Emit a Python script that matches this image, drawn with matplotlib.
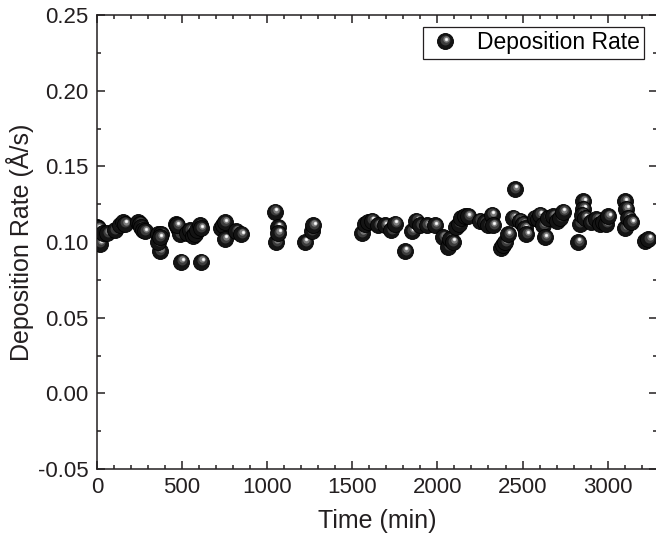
import numpy as np
import matplotlib.pyplot as plt
from matplotlib.ticker import MultipleLocator
from matplotlib.legend_handler import HandlerBase
from matplotlib.lines import Line2D
import matplotlib.transforms as mtransforms

plt.rcParams['font.family'] = ['Liberation Sans', 'DejaVu Sans']

# time (min) and deposition rate (A/s)
time = [0, 6, 16, 35, 60, 104, 133, 150, 162,
        241, 250, 260, 270, 280, 358, 368, 378, 358, 368,
        466, 476, 486, 470, 495, 530, 544, 564, 575, 590, 603, 608, 613,
        730, 740, 750, 750, 818, 848,
        1043, 1053, 1063, 1065, 1221, 1261, 1271,
        1554, 1574, 1595, 1613, 1652, 1691, 1730, 1750,
        1809, 1848, 1877, 1900, 1936, 1985,
        2034, 2063, 2073, 2090, 2112, 2125, 2141, 2160, 2180,
        2249, 2278, 2300, 2318, 2327, 2376, 2386, 2396, 2415, 2445, 2454,
        2484, 2500, 2513, 2523, 2572, 2590, 2601, 2621, 2631, 2650, 2680, 2700, 2720, 2738,
        2826, 2836, 2856, 2856, 2850, 2866, 2900, 2934, 2955, 2973, 2990, 3003,
        3100, 3100, 3110, 3120, 3140, 3218, 3240]
rate = [0.110, 0.109, 0.099, 0.106, 0.106, 0.108, 0.111, 0.113, 0.112,
        0.113, 0.112, 0.110, 0.108, 0.107, 0.105, 0.094, 0.105, 0.100, 0.103,
        0.112, 0.109, 0.105, 0.111, 0.087, 0.106, 0.108, 0.104, 0.105, 0.108, 0.111, 0.109, 0.087,
        0.109, 0.111, 0.113, 0.102, 0.107, 0.105,
        0.120, 0.100, 0.110, 0.106, 0.100, 0.107, 0.111,
        0.106, 0.112, 0.113, 0.114, 0.111, 0.111, 0.108, 0.112,
        0.094, 0.107, 0.114, 0.111, 0.111, 0.111,
        0.103, 0.097, 0.102, 0.100, 0.110, 0.112, 0.116, 0.117, 0.117,
        0.114, 0.113, 0.111, 0.118, 0.111, 0.096, 0.098, 0.100, 0.105, 0.116, 0.135,
        0.114, 0.112, 0.109, 0.105, 0.116, 0.115, 0.118, 0.111, 0.103, 0.116, 0.117, 0.114, 0.116, 0.120,
        0.100, 0.112, 0.127, 0.122, 0.118, 0.116, 0.113, 0.115, 0.112, 0.113, 0.112, 0.117,
        0.127, 0.109, 0.122, 0.116, 0.113, 0.101, 0.102]

fig = plt.figure(figsize=(6.56, 5.37), dpi=100)
ax = fig.add_axes([0.1479, 0.1266, 0.8536, 0.8454])

ink = '#231f20'
MS = 11.5
# (size fraction, colour, dx pt, dy pt) of the lighter spots on each ball
LAYERS = [(0.62, '#3c3c3c', 0.5, 1.0), (0.4, '#7a7a7a', 0.8, 1.6),
          (0.22, '#dcdcdc', 1.0, 1.9), (0.12, '#ffffff', 1.0, 1.9)]


def sphere(ax, x, y, z, size=MS):
    ax.plot(x, y, 'o', ms=size, mfc='#141414', mec='#000000', mew=0.6, zorder=z)
    for k, (f, c, dx, dy) in enumerate(LAYERS):
        tr = mtransforms.offset_copy(ax.transData, fig=fig, x=dx, y=dy, units='points')
        ax.plot(x, y, 'o', ms=size * f, mfc=c, mec='none', transform=tr, zorder=z + 0.1 * (k + 1))


class SphereHandler(HandlerBase):
    def create_artists(self, legend, orig, xd, yd, w, h, fs, trans):
        cx, cy = w / 2 - xd, h / 2 - yd
        arts = [Line2D([cx], [cy], marker='o', ms=MS, mfc='#141414', mec='#000000',
                       mew=0.6, ls='none', transform=trans)]
        for f, c, dx, dy in LAYERS:
            arts.append(Line2D([cx + dx], [cy + dy], marker='o', ms=MS * f, mfc=c,
                               mec='none', ls='none', transform=trans))
        return arts


for i, (t, r) in enumerate(zip(time, rate)):
    sphere(ax, t, r, 3 + i)

ax.set_xlim(0, 3290)
ax.set_ylim(-0.05, 0.25)
ax.xaxis.set_major_locator(MultipleLocator(500))
ax.xaxis.set_minor_locator(MultipleLocator(100))
ax.yaxis.set_major_locator(MultipleLocator(0.05))
ax.yaxis.set_minor_locator(MultipleLocator(0.025))
ax.yaxis.set_major_formatter(plt.FuncFormatter(lambda v, p: f'{v:.2f}'))
ax.tick_params(which='both', direction='in', top=True, right=True, colors=ink,
               labelsize=16, width=1.1, pad=6)
ax.tick_params(which='major', length=5.5)
ax.tick_params(which='minor', length=3)
for s in ax.spines.values():
    s.set_linewidth(1.1)
    s.set_color(ink)

ax.set_xlabel('Time (min)', fontsize=18, color=ink, va='center')
ax.set_ylabel('Deposition Rate (Å/s)', fontsize=18, color=ink, va='center')
ax.xaxis.set_label_coords(0.501, -0.1145)
ax.yaxis.set_label_coords(-0.1375, 0.5)

h = Line2D([], [], ls='none', label='Deposition Rate')
leg = ax.legend(handles=[h], handler_map={Line2D: SphereHandler()},
                loc='upper right', bbox_to_anchor=(0.977, 0.974), borderaxespad=0,
                fontsize=16.5, frameon=True, fancybox=False, edgecolor=ink, framealpha=1,
                handlelength=1.5, handletextpad=0.65, borderpad=0.2)
leg.get_frame().set_linewidth(0.9)
leg.set_zorder(500)

fig.savefig('out.png', dpi=100)
